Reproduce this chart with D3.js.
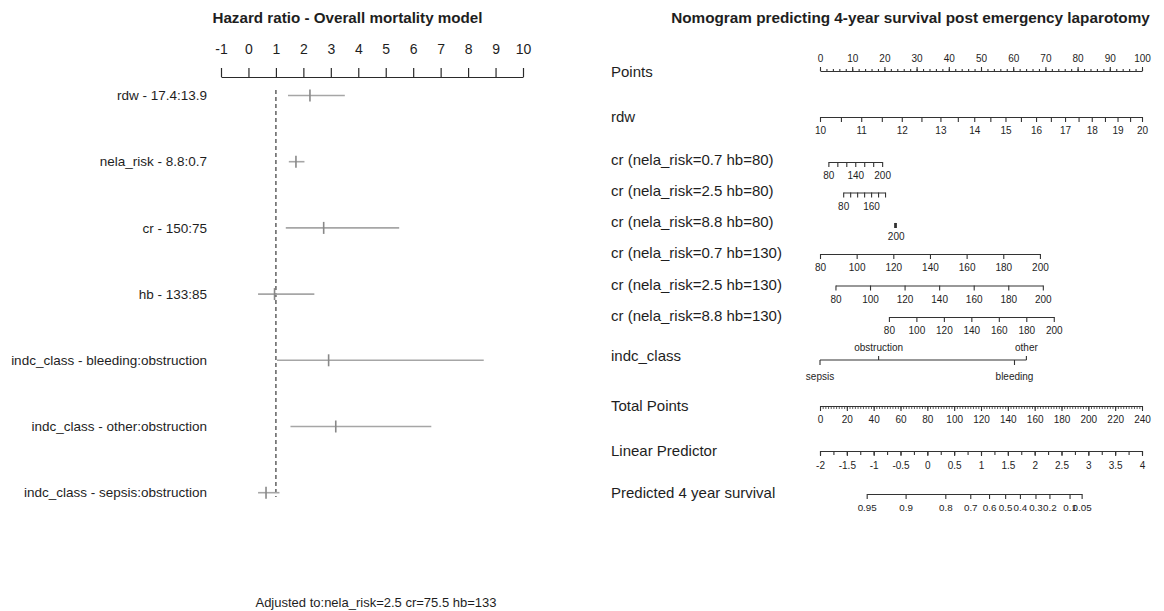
<!DOCTYPE html>
<html><head><meta charset="utf-8">
<script src="https://cdn.jsdelivr.net/npm/d3@7"></script>
<style>
body{margin:0;background:#fff}
svg{display:block}
</style>
</head><body>
<svg id="c" width="1164" height="611"></svg>
<script>
// ================= DATA =================
// Left panel: hazard ratios
const hrLabels = ["rdw - 17.4:13.9","nela_risk - 8.8:0.7","cr - 150:75","hb - 133:85",
  "indc_class - bleeding:obstruction","indc_class - other:obstruction","indc_class - sepsis:obstruction"];
const hrEst  = [2.24, 1.73, 2.74, 0.95, 2.92, 3.18, 0.64];
const hrLow  = [1.44, 1.47, 1.36, 0.35, 1.04, 1.53, 0.35];
const hrHigh = [3.51, 2.04, 5.49, 2.40, 8.57, 6.66, 1.13];
const hrTicks = [-1,0,1,2,3,4,5,6,7,8,9,10];
const hrTitle = "Hazard ratio - Overall mortality model";
const adjustedNote = "Adjusted to:nela_risk=2.5 cr=75.5 hb=133";

// Right panel: nomogram
const nomoTitle = "Nomogram predicting 4-year survival post emergency laparotomy";
const pointsTicks = [0,10,20,30,40,50,60,70,80,90,100];
const rdwValues = [10,10.5,11,11.5,12,12.5,13,13.5,14,14.5,15,15.5,16,16.5,17,17.5,18,18.5,19,19.5,20];
const rdwPoints = [0,6.5,12.8,19.2,25.4,31.5,37.4,42.8,47.9,52.9,57.6,62.4,67.1,71.7,76.1,80.3,84.4,88.5,92.4,96.3,100];
const rdwLabels = [10,11,12,13,14,15,16,17,18,19,20];
const crRowNames = ["cr (nela_risk=0.7 hb=80)","cr (nela_risk=2.5 hb=80)","cr (nela_risk=8.8 hb=80)",
  "cr (nela_risk=0.7 hb=130)","cr (nela_risk=2.5 hb=130)","cr (nela_risk=8.8 hb=130)"];
const crTicks = [80,100,120,140,160,180,200];
const crPointsAt80  = [2.6, 7.2, 23.1, 0.0, 4.8, 21.4];
const crPointsAt200 = [19.3, 20.2, 23.5, 68.3, 69.2, 72.6];
const crShownLabels = [[80,140,200],[80,160],[200],crTicks,crTicks,crTicks];
const indcLevels = ["sepsis","obstruction","bleeding","other"];
const indcPoints = [0, 18.2, 60.4, 64.1];
const totalTicks = [0,20,40,60,80,100,120,140,160,180,200,220,240];
const lpTicks = [-2,-1.5,-1,-0.5,0,0.5,1,1.5,2,2.5,3,3.5,4];
const survLabels = ["0.95","0.9","0.8","0.7","0.6","0.5","0.4","0.3","0.2","0.1","0.05"];
const survTotalPoints = [34.8,63.8,93.4,112,126,138,149,160.6,171,186,195];

// ================= DRAW =================
const FONT = '"Liberation Sans", Arial, Helvetica, sans-serif';
const INK = "#1e1e1e";
const svg = d3.select("#c");

// ---------- Left panel ----------
const xHR = d3.scaleLinear().domain([-1, 10]).range([221, 523]);
const rowY = d3.scalePoint().domain(hrLabels).range([95.5, 492.7]);

svg.append("text").text(hrTitle)
  .attr("x", 347.5).attr("y", 18).attr("dy", "0.35em")
  .attr("text-anchor", "middle").attr("font-family", FONT)
  .attr("font-weight", "bold").attr("font-size", 15.2).attr("fill", INK);

const gL = svg.append("g").attr("transform", "translate(0,77)")
  .call(d3.axisTop(xHR).tickValues(hrTicks).tickSize(9).tickSizeOuter(0)
    .tickPadding(14).tickFormat(d => String(d)));
gL.selectAll("path.domain, line").attr("stroke", "#2a2a2a").attr("stroke-width", 1.2);
gL.selectAll("text").attr("font-size", 14).attr("font-family", FONT).attr("fill", INK);

// reference line at HR = 1
svg.append("line")
  .attr("x1", xHR(1)).attr("x2", xHR(1)).attr("y1", 90).attr("y2", 497)
  .attr("stroke", "#555").attr("stroke-width", 1.4).attr("stroke-dasharray", "4,3");

const rows = svg.append("g").selectAll("g").data(hrLabels).join("g");
rows.append("text").text(d => d)
  .attr("x", 207).attr("y", d => rowY(d)).attr("dy", "0.35em")
  .attr("text-anchor", "end").attr("font-family", FONT).attr("font-size", 13.5).attr("fill", INK);
rows.append("line")
  .attr("x1", (d, i) => xHR(hrLow[i])).attr("x2", (d, i) => xHR(hrHigh[i]))
  .attr("y1", d => rowY(d)).attr("y2", d => rowY(d))
  .attr("stroke", "#a6a6a6").attr("stroke-width", 1.6);
rows.append("line")
  .attr("x1", (d, i) => xHR(hrEst[i])).attr("x2", (d, i) => xHR(hrEst[i]))
  .attr("y1", d => rowY(d) - 6).attr("y2", d => rowY(d) + 6)
  .attr("stroke", "#888").attr("stroke-width", 1.6);

svg.append("text").text(adjustedNote)
  .attr("x", 376).attr("y", 602).attr("dy", "0.35em")
  .attr("text-anchor", "middle").attr("font-family", FONT).attr("font-size", 13).attr("fill", INK);

// ---------- Right panel ----------
const xPts = d3.scaleLinear().domain([0, 100]).range([820, 1142]);
const xTot = d3.scaleLinear().domain([0, 240]).range([820, 1142]);
const xLP  = d3.scaleLinear().domain([-2, 4]).range([820, 1142]);

svg.append("text").text(nomoTitle)
  .attr("x", 910.5).attr("y", 18).attr("dy", "0.35em")
  .attr("text-anchor", "middle").attr("font-family", FONT)
  .attr("font-weight", "bold").attr("font-size", 15.3).attr("fill", INK);

const rowNames = ["Points","rdw"].concat(crRowNames, ["indc_class","Total Points","Linear Predictor","Predicted 4 year survival"]);
const rowLabelY = [72,117,160,191,222,253,285,316,356,406,451,493];
svg.append("g").selectAll("text").data(rowNames).join("text")
  .text(d => d).attr("x", 611).attr("y", (d, i) => rowLabelY[i]).attr("dy", "0.35em")
  .attr("font-family", FONT).attr("font-size", 15).attr("fill", INK);

function addAxis(o) {
  const {scale, y, major, fmt, minor = [], top = false, size = 5, minorSize = 3, pad = 5, fs = 10, minorWidth = 1.1} = o;
  const g = svg.append("g").attr("transform", `translate(0,${y})`);
  const mk = top ? d3.axisTop : d3.axisBottom;
  if (minor.length) {
    g.append("g").attr("class", "minor")
      .call(mk(scale).tickValues(minor).tickSize(minorSize).tickSizeOuter(0).tickFormat(""))
      .call(s => s.select(".domain").remove());
  }
  g.append("g").call(mk(scale).tickValues(major).tickSize(size).tickSizeOuter(0)
    .tickPadding(pad).tickFormat(fmt));
  g.selectAll("path.domain, line").attr("stroke", "#333").attr("stroke-width", 1.1);
  g.selectAll(".minor line").attr("stroke-width", minorWidth);
  g.selectAll("text").attr("font-size", fs).attr("font-family", FONT).attr("fill", INK);
  return g;
}

// Points
addAxis({scale: xPts, y: 71, top: true, major: pointsTicks, fmt: d => String(d),
  minor: d3.range(0, 101, 2), size: 4, minorSize: 2, pad: 5});

// rdw (non-linear)
const xRdw = d3.scaleLinear().domain(rdwValues).range(rdwPoints.map(p => xPts(p)));
addAxis({scale: xRdw, y: 117, major: rdwValues, fmt: d => rdwLabels.includes(d) ? String(d) : "",
  size: 5, pad: 4.5});

// cr rows
const crAxisY = [162, 192.5, 223, 254, 285.5, 317];
crRowNames.forEach((name, i) => {
  const sc = d3.scaleLinear().domain([80, 200]).range([xPts(crPointsAt80[i]), xPts(crPointsAt200[i])]);
  addAxis({scale: sc, y: crAxisY[i], major: crTicks,
    fmt: d => crShownLabels[i].includes(d) ? String(d) : "", size: 5, pad: 5});
});

// indc_class
const gI = svg.append("g").attr("transform", "translate(0,360)");
gI.append("line").attr("x1", xPts(d3.min(indcPoints))).attr("x2", xPts(d3.max(indcPoints)))
  .attr("y1", 0).attr("y2", 0).attr("stroke", "#333").attr("stroke-width", 1.1);
const ind = gI.selectAll("g").data(indcLevels).join("g")
  .attr("transform", (d, i) => `translate(${xPts(indcPoints[i])},0)`);
ind.append("line").attr("y1", 0).attr("y2", (d, i) => i % 2 ? -4 : 5)
  .attr("stroke", "#333").attr("stroke-width", 1.1);
ind.append("text").text(d => d).attr("y", (d, i) => i % 2 ? -13 : 16).attr("dy", "0.35em")
  .attr("text-anchor", "middle").attr("font-family", FONT).attr("font-size", 10).attr("fill", INK);

// Total Points
addAxis({scale: xTot, y: 406, major: totalTicks, fmt: d => String(d),
  minor: d3.range(0, 241, 2), size: 5, minorSize: 3, pad: 4.5, minorWidth: 0.8});

// Linear Predictor
addAxis({scale: xLP, y: 451, major: lpTicks, fmt: d => String(d),
  minor: d3.range(-2, 4.01, 0.25), size: 5, minorSize: 4, pad: 5.5});

// Predicted survival: axis spans only the labelled survival range
const survExtent = d3.extent(survTotalPoints);
const xSurv = d3.scaleLinear().domain(survExtent).range(survExtent.map(v => xTot(v)));
addAxis({scale: xSurv, y: 494, major: survTotalPoints, fmt: (d, i) => survLabels[i],
  size: 5, pad: 5.5, fs: 9.8});
</script>
</body></html>
